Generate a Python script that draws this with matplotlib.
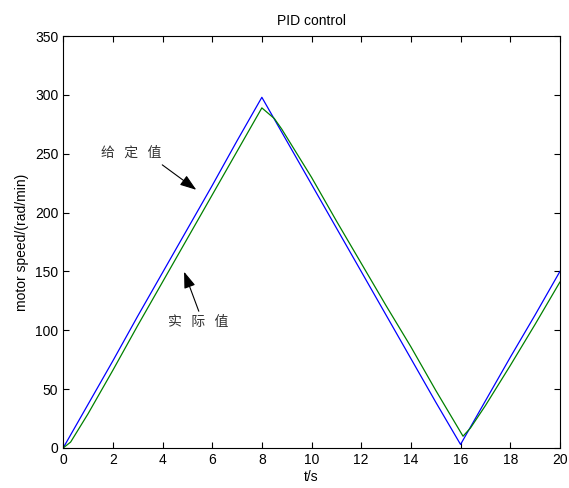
#! /usr/bin/env python3
# -*- coding: utf-8 -*-

import matplotlib
matplotlib.use('Agg')
import matplotlib.pyplot as plt

# setpoint (给定值)
t_set = [0, 1, 2, 3, 4, 5, 6, 7, 8, 9, 10, 11, 12, 13, 14, 15, 16,
         17, 18, 19, 20]
v_set = [0, 37, 74, 112, 149, 186, 223, 261, 298, 261, 224, 187, 150,
         113, 76, 39, 3, 40, 77, 113, 150]

# measured speed (实际值)
t_act = [0, 0.3, 1, 2, 3, 4, 5, 6, 7, 8, 8.5, 8.8, 10, 11, 12, 13, 14,
         15, 16.1, 16.4, 17, 18, 19, 20]
v_act = [0, 5, 29, 66, 104, 141, 178, 215, 252, 289, 280, 271, 230, 193,
         157, 121, 86, 49, 10, 17, 36, 70, 105, 141]

x_ticks = [0, 2, 4, 6, 8, 10, 12, 14, 16, 18, 20]
y_ticks = [0, 50, 100, 150, 200, 250, 300, 350]


def main():
    plt.rcParams['font.family'] = ['Liberation Sans', 'Noto Sans CJK SC',
                                   'DejaVu Sans']
    fig = plt.figure(figsize=(5.69, 4.88), dpi=100)
    ax = fig.add_axes([0.111, 0.082, 0.873, 0.844])

    ax.plot(t_set, v_set, color='#0000ff', lw=0.9)
    ax.plot(t_act, v_act, color='#008000', lw=0.9)

    ax.set_xlim(0, 20)
    ax.set_ylim(0, 350)
    ax.set_xticks(x_ticks)
    ax.set_yticks(y_ticks)
    ax.tick_params(direction='in', top=True, right=True, length=4,
                   labelsize=10, width=0.8)
    for s in ax.spines.values():
        s.set_linewidth(0.8)

    ax.set_title('PID control', fontsize=10, pad=8)
    ax.set_xlabel('t/s', fontsize=10, labelpad=2)
    ax.set_ylabel('motor speed/(rad/min)', fontsize=10, labelpad=4)

    cjk = ['Noto Sans CJK SC', 'DejaVu Sans']
    arrow = dict(arrowstyle='-|>,head_length=1.0,head_width=0.35',
                 color='black', lw=0.8)
    ax.text(2.75, 251, '给   定   值', family=cjk, fontsize=10,
            color='#333333', ha='center', va='center')
    ax.annotate('', xy=(5.45, 218), xytext=(3.9, 242), arrowprops=arrow)
    ax.text(5.45, 107, '实   际   值', family=cjk, fontsize=10,
            color='#333333', ha='center', va='center')
    ax.annotate('', xy=(4.83, 152), xytext=(5.5, 114), arrowprops=arrow)

    fig.savefig('out.png', dpi=100)


if __name__ == '__main__':
    main()
